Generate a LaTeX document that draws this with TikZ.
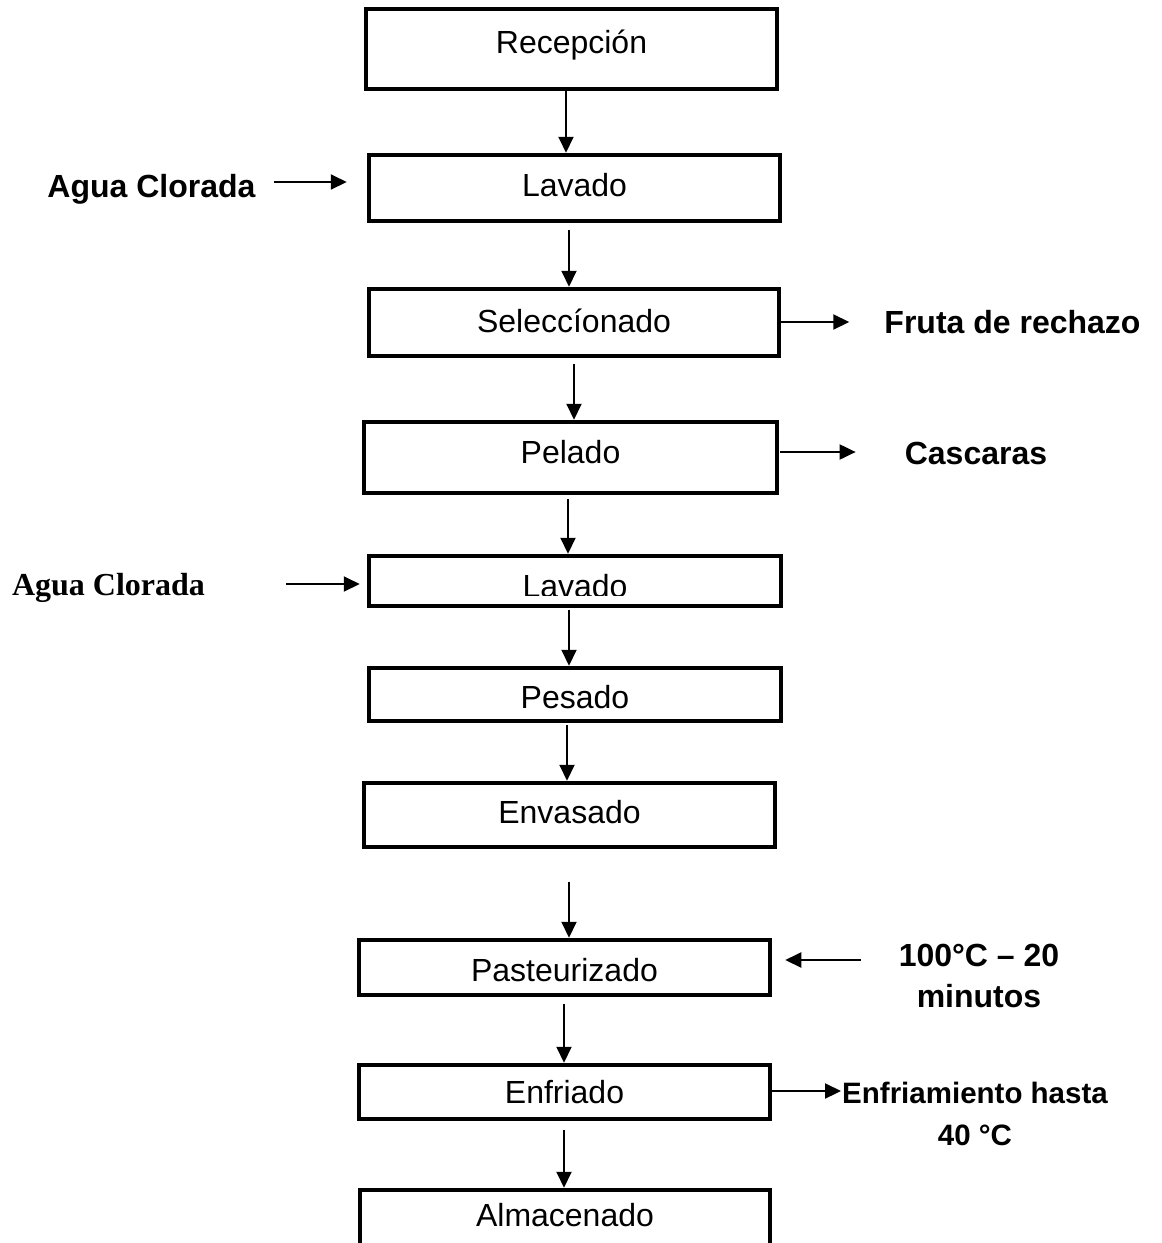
\documentclass[tikz,border=0pt]{standalone}
\usepackage{fontspec}
\setmainfont{Liberation Sans}
\newfontfamily\timesf{Liberation Serif}
\usetikzlibrary{arrows.meta,calc}
\begin{document}
\begin{tikzpicture}[x=1pt,y=-1pt,
  box/.style={draw, line width=4.5pt, rectangle, inner sep=0pt,
    font=\fontsize{32}{40}\selectfont, text height=23pt, text depth=4pt},
  lbl/.style={inner sep=0pt, font=\fontsize{32}{41}\selectfont\bfseries,
    text height=23pt, text depth=0pt},
  lbltwo/.style={inner sep=0pt, font=\fontsize{32}{41}\selectfont\bfseries, align=center},
  arr/.style={line width=2pt, -{Triangle[length=16pt,width=15pt]}}]
\useasboundingbox (0,0) rectangle (1162,1243);

% process boxes
\node[box, minimum width=411pt, minimum height=80pt, text depth=14pt] (rec) at (571.5,49) {Recepción};
\node[box, minimum width=411pt, minimum height=66pt, text depth=6pt] (lav1) at (574.5,188) {Lavado};
\node[box, minimum width=410pt, minimum height=67pt] (sel) at (574,322.5) {Seleccíonado};
\node[box, minimum width=413pt, minimum height=71pt, text depth=12pt] (pel) at (570.5,457.5) {Pelado};
\node[box, minimum width=412pt, minimum height=50pt] (lav2) at (575,581) {};
\begin{scope}
  \clip (360,560) rectangle (790,595);
  \node[box, draw=none, text height=33pt, text depth=0pt] (lav2t) at (575,581) {Lavado};
\end{scope}
\node[box, minimum width=412pt, minimum height=53pt, text height=28pt, text depth=0pt] (pes) at (575,694.5) {Pesado};
\node[box, minimum width=411pt, minimum height=64pt, text depth=6pt] (env) at (569.5,815) {Envasado};
\node[box, minimum width=411pt, minimum height=55pt, text height=28pt, text depth=0pt] (pas) at (564.5,967.5) {Pasteurizado};
\node[box, minimum width=411pt, minimum height=54pt, text depth=0pt] (enf) at (564.5,1092) {Enfriado};
\node[box, minimum width=410pt, minimum height=70pt, text depth=20pt] (alm) at (565,1225) {Almacenado};

% side labels
\node[lbl] (agua1) at (151.5,186) {Agua Clorada};
\node[lbl, font=\fontsize{32}{41}\selectfont\timesf\bfseries, text height=21pt] (agua2) at (108.5,585) {Agua Clorada};
\node[lbl] (fruta) at (1012.5,322) {Fruta de rechazo};
\node[lbl] (casc) at (976,453) {Cascaras};
\node[lbltwo] (temp) at (979,975.5) {100°C – 20\\minutos};
\node[lbltwo, font=\fontsize{29.5}{42}\selectfont\bfseries] (enfr) at (975,1114) {Enfriamiento hasta\\40 °C};

% vertical connectors
\coordinate (v1) at ($(rec.south)+(-5.5,0)$);
\draw[arr] (v1) -- (v1 |- lav1.north);
\coordinate (v2) at ($(lav1.south)+(-5.5,7)$);
\draw[arr] (v2) -- (v2 |- sel.north);
\coordinate (v3) at ($(sel.south)+(0,6)$);
\draw[arr] (v3) -- (v3 |- pel.north);
\coordinate (v4) at ($(pel.south)+(-2.5,4)$);
\draw[arr] (v4) -- (v4 |- lav2.north);
\coordinate (v5) at ($(lav2.south)+(-6,2)$);
\draw[arr] (v5) -- (v5 |- pes.north);
\coordinate (v6) at ($(pes.south)+(-8,2)$);
\draw[arr] (v6) -- (v6 |- env.north);
\coordinate (v7) at ($(env.south)+(-0.5,33)$);
\draw[arr] (v7) -- (v7 |- pas.north);
\coordinate (v8) at ($(pas.south)+(-0.5,7)$);
\draw[arr] (v8) -- (v8 |- enf.north);
\coordinate (v9) at ($(enf.south)+(-0.5,9)$);
\draw[arr] (v9) -- (v9 |- alm.north);

% horizontal connectors
\coordinate (h1) at ($(agua1.east)+(18,-4)$);
\draw[arr, shorten >=20pt] (h1) -- (h1 -| lav1.west);
\coordinate (h2) at ($(agua2.east)+(81,-1)$);
\draw[arr, shorten >=7pt] (h2) -- (h2 -| lav2.west);
\coordinate (h3) at ($(sel.east)+(-2,-0.5)$);
\draw[arr, shorten >=35pt] (h3) -- (h3 -| fruta.west);
\coordinate (h4) at ($(pel.east)+(1,-5.5)$);
\draw[arr, shorten >=49pt] (h4) -- (h4 -| casc.west);
\coordinate (h5) at ($(temp.west)+(-38,-15.5)$);
\draw[arr, shorten >=13pt] (h5) -- (h5 -| pas.east);
\coordinate (h6) at ($(enf.east)+(0,-1)$);
\draw[arr, shorten >=1pt] (h6) -- (h6 -| enfr.west);
\end{tikzpicture}
\end{document}
